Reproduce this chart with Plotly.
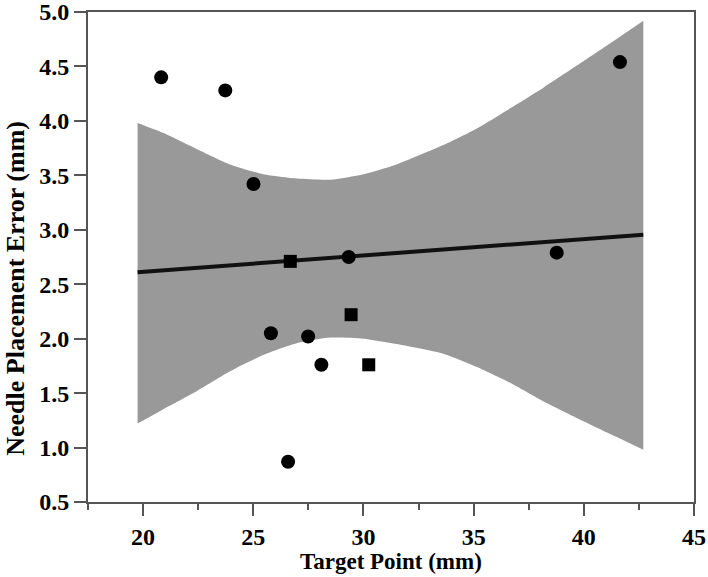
import plotly.graph_objects as go

# Data
circle_x = [20.82, 23.73, 25.01, 25.80, 26.58, 27.49, 28.09, 29.33, 38.77, 41.64]
circle_y = [4.40, 4.28, 3.42, 2.05, 0.87, 2.02, 1.76, 2.75, 2.79, 4.54]

square_x = [26.68, 29.44, 30.24]
square_y = [2.71, 2.22, 1.76]

fit_x = [19.75, 42.7]
fit_y = [2.61, 2.955]

band_x = [19.75, 20.9, 22.45, 23.95, 25.45, 27.0, 28.5, 30.0, 31.5,
          33.65, 35.15, 36.7, 38.2, 39.7, 41.25, 42.7]
band_upper = [3.98, 3.89, 3.74, 3.60, 3.51, 3.47, 3.46, 3.51, 3.60,
              3.78, 3.93, 4.12, 4.31, 4.51, 4.72, 4.92]
band_lower = [1.22, 1.35, 1.52, 1.70, 1.85, 1.96, 2.01, 2.00, 1.95,
              1.86, 1.74, 1.59, 1.42, 1.27, 1.12, 0.98]

x_ticks = [20, 25, 30, 35, 40, 45]
y_ticks = [0.5, 1.0, 1.5, 2.0, 2.5, 3.0, 3.5, 4.0, 4.5, 5.0]

x_title = "Target Point (mm)"
y_title = "Needle Placement Error (mm)"

SERIF = "Liberation Serif, Times New Roman, Times, serif"
AXIS_COLOR = "#555555"
BAND_COLOR = "#999999"

fig = go.Figure()

fig.add_trace(go.Scatter(
    x=band_x, y=band_lower, mode="lines",
    line=dict(width=0, shape="spline", smoothing=0.6, color=BAND_COLOR),
    hoverinfo="skip", showlegend=False))
fig.add_trace(go.Scatter(
    x=band_x, y=band_upper, mode="lines",
    line=dict(width=0, shape="spline", smoothing=0.6, color=BAND_COLOR),
    fill="tonexty", fillcolor=BAND_COLOR,
    hoverinfo="skip", showlegend=False))

fig.add_trace(go.Scatter(
    x=fit_x, y=fit_y, mode="lines",
    line=dict(color="#111111", width=4),
    showlegend=False))

fig.add_trace(go.Scatter(
    x=circle_x, y=circle_y, mode="markers",
    marker=dict(symbol="circle", size=14, color="black"),
    showlegend=False))
fig.add_trace(go.Scatter(
    x=square_x, y=square_y, mode="markers",
    marker=dict(symbol="square", size=13, color="black"),
    showlegend=False))

fig.update_layout(
    width=708, height=577,
    margin=dict(l=88, r=14, t=12, b=75, autoexpand=False),
    plot_bgcolor="white", paper_bgcolor="white",
    font=dict(family=SERIF, color="black"),
    showlegend=False,
)

fig.update_xaxes(
    range=[17.5, 45], tickmode="array", tickvals=x_ticks,
    ticktext=[str(v) for v in x_ticks], automargin=False,
    ticklabeloverflow="allow",
    showgrid=False, zeroline=False,
    showline=True, linecolor=AXIS_COLOR, linewidth=2, mirror=True,
    ticks="outside", ticklen=12, tickwidth=2, tickcolor=AXIS_COLOR,
    tickfont=dict(family=SERIF, size=24, color="black", weight="bold"),
    minor=dict(dtick=2.5, tick0=0, ticks="outside", ticklen=6,
               tickwidth=2, tickcolor=AXIS_COLOR, showgrid=False),
)
fig.update_yaxes(
    range=[0.5, 5.0], tickmode="array", tickvals=y_ticks,
    ticktext=[f"{v:.1f}" for v in y_ticks], automargin=False,
    ticklabeloverflow="allow",
    showgrid=False, zeroline=False,
    showline=True, linecolor=AXIS_COLOR, linewidth=2, mirror=True,
    ticks="outside", ticklen=12, tickwidth=2, tickcolor=AXIS_COLOR,
    tickfont=dict(family=SERIF, size=24, color="black", weight="bold"),
)

fig.add_annotation(
    text=x_title, xref="paper", yref="paper", x=0.5, y=-0.122,
    xanchor="center", yanchor="middle", showarrow=False,
    font=dict(family=SERIF, size=23, color="black", weight="bold"))
fig.add_annotation(
    text=y_title, xref="paper", yref="paper", x=-0.119, y=0.437,
    xanchor="center", yanchor="middle", textangle=-90, showarrow=False,
    font=dict(family=SERIF, size=26, color="black", weight="bold"))

fig.write_html("out.html",
               config={"displayModeBar": False},
               post_script="document.body.style.margin='0';")
